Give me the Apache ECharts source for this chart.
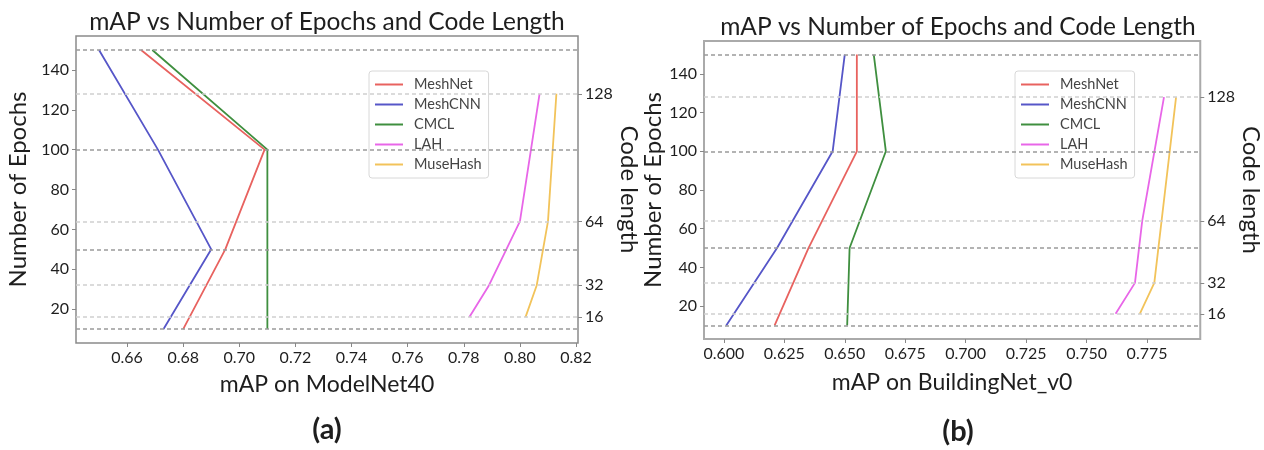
<!DOCTYPE html>
<html>
<head>
<meta charset="utf-8">
<script src="https://cdn.jsdelivr.net/npm/echarts@6/dist/echarts.min.js"></script>
<style>
  html, body { margin: 0; padding: 0; background: #fff; }
  #chart { width: 1264px; height: 450px; }
</style>
</head>
<body>
<div id="chart"></div>
<script>
// 纵轴数据
const epochs = [10, 50, 100, 150]
const codeLengths = [16, 32, 64, 128]
const seriesNames = ['MeshNet', 'MeshCNN', 'CMCL', 'LAH', 'MuseHash']

// (a) ModelNet40, 前三个对应 epochs, 后两个对应 codeLengths
const meshNetA = [0.680, 0.695, 0.709, 0.665]
const meshCnnA = [0.673, 0.690, 0.671, 0.650]
const cmclA = [0.710, 0.710, 0.710, 0.669]
const lahA = [0.782, 0.789, 0.800, 0.807]
const museHashA = [0.802, 0.806, 0.810, 0.813]

// (b) BuildingNet_v0
const meshNetB = [0.621, 0.635, 0.655, 0.655]
const meshCnnB = [0.601, 0.622, 0.645, 0.650]
const cmclB = [0.651, 0.652, 0.667, 0.662]
const lahB = [0.762, 0.770, 0.773, 0.782]
const museHashB = [0.772, 0.778, 0.781, 0.787]

// 刻度
const xTicksA = [0.66, 0.68, 0.70, 0.72, 0.74, 0.76, 0.78, 0.80, 0.82]
const xTicksB = [0.600, 0.625, 0.650, 0.675, 0.700, 0.725, 0.750, 0.775]
const epochTicks = [20, 40, 60, 80, 100, 120, 140]

const colors = ['#e8625f', '#5656c8', '#3f8f3f', '#e866e8', '#f2c35a']
const FONT = 'Lato, "Open Sans", sans-serif'
const TEXT = '#1e1e1e'

const chart = echarts.init(document.getElementById('chart'))

const pairs = (xs, ys) => xs.map((x, i) => [x, ys[i]])

const makeAxes = (gi, xMin, xMax, xTicks, digits, rows) => {
  const tickStyle = { length: 4, lineStyle: { color: '#888', width: 1 } }
  const nameStyle = { fontFamily: FONT, fontSize: 23, color: TEXT }
  const labelStyle = { fontFamily: FONT, fontSize: 16, color: TEXT }
  return {
    x: {
      type: 'value', gridIndex: gi, min: xMin, max: xMax,
      name: rows.xName, nameLocation: 'middle', nameGap: rows.xGap,
      nameTextStyle: nameStyle,
      axisLine: { show: false },
      splitLine: { show: false },
      axisTick: Object.assign({ customValues: xTicks }, tickStyle),
      axisLabel: Object.assign({ customValues: xTicks, margin: 7, formatter: v => v.toFixed(digits) }, labelStyle)
    },
    y: [
      {
        type: 'value', gridIndex: gi, min: 3, max: 157,
        name: 'Number of Epochs', nameLocation: 'middle', nameGap: rows.yGap,
        nameTextStyle: Object.assign({}, nameStyle, { fontSize: 24 }),
        axisLine: { show: false },
        splitLine: { show: false },
        axisTick: Object.assign({ customValues: epochTicks }, tickStyle),
        axisLabel: Object.assign({ customValues: epochTicks, margin: 7 }, labelStyle)
      },
      {
        type: 'value', gridIndex: gi, min: 3, max: 157, position: 'right',
        name: 'Code length', nameLocation: 'middle', nameGap: rows.rGap, nameRotate: -90,
        nameTextStyle: Object.assign({}, nameStyle, { fontSize: 24 }),
        axisLine: { show: false },
        splitLine: { show: false },
        axisTick: Object.assign({ customValues: codeLengths }, tickStyle),
        axisLabel: Object.assign({ customValues: codeLengths, margin: 7 }, labelStyle)
      }
    ]
  }
}

const axesA = makeAxes(0, 0.6418, 0.8207, xTicksA, 2, { xName: 'mAP on ModelNet40', xGap: 30, yGap: 46, rGap: 26 })
const axesB = makeAxes(1, 0.5918, 0.7970, xTicksB, 3, { xName: 'mAP on BuildingNet_v0', xGap: 32, yGap: 35, rGap: 30 })

const hLines = (values, color) => ({
  silent: true,
  symbol: 'none',
  label: { show: false },
  lineStyle: { type: [4, 3], color: color, width: 1.5 },
  data: values.map(v => ({ yAxis: v }))
})

const makeSeries = (gi, dataSet) => dataSet.map((xs, k) => {
  const onCode = k >= 3
  const s = {
    name: seriesNames[k],
    type: 'line',
    xAxisIndex: gi,
    yAxisIndex: gi * 2 + (onCode ? 1 : 0),
    data: pairs(xs, onCode ? codeLengths : epochs),
    showSymbol: false,
    color: colors[k],
    lineStyle: { width: 1.8, color: colors[k] },
    z: 3
  }
  if (k === 0) s.markLine = hLines(epochs, '#9a9a9a')
  if (k === 3) s.markLine = hLines(codeLengths, '#cfcfcf')
  return s
})

const legendBase = {
  orient: 'vertical',
  data: seriesNames,
  icon: 'rect',
  itemWidth: 28,
  itemHeight: 2,
  itemGap: 5,
  padding: [6, 7, 6, 6],
  backgroundColor: '#fff',
  borderColor: '#d8d8d8',
  borderWidth: 1,
  borderRadius: 3,
  textStyle: { fontFamily: FONT, fontSize: 14.5, color: '#444', lineHeight: 14.5, padding: [0, 0, 0, 6] }
}

const textEl = (x, y, text, size, weight) => ({
  type: 'text', x: x, y: y, z: 10,
  style: { text: text, align: 'center', verticalAlign: 'middle', fill: TEXT, font: `${weight || 'normal'} ${size}px ${FONT}` }
})

const option = {
  animation: false,
  grid: [
    { left: 76, right: 686, top: 36, bottom: 107, show: true, borderColor: '#8a8a8a', borderWidth: 1.5 },
    { left: 704, right: 51, top: 41, bottom: 111, show: true, borderColor: '#aaaaaa', borderWidth: 2 }
  ],
  legend: [
    Object.assign({ left: 369, top: 71 }, legendBase),
    Object.assign({ left: 1015, top: 71 }, legendBase)
  ],
  xAxis: [axesA.x, axesB.x],
  yAxis: [axesA.y[0], axesA.y[1], axesB.y[0], axesB.y[1]],
  series: [
    ...makeSeries(0, [meshNetA, meshCnnA, cmclA, lahA, museHashA]),
    ...makeSeries(1, [meshNetB, meshCnnB, cmclB, lahB, museHashB])
  ],
  graphic: [
    textEl(327, 22, 'mAP vs Number of Epochs and Code Length', 24.5),
    textEl(958, 27, 'mAP vs Number of Epochs and Code Length', 24.5),
    textEl(327, 430, '(a)', 29, 'bold'),
    textEl(958, 432, '(b)', 29, 'bold')
  ]
}

chart.setOption(option)
</script>
</body>
</html>
